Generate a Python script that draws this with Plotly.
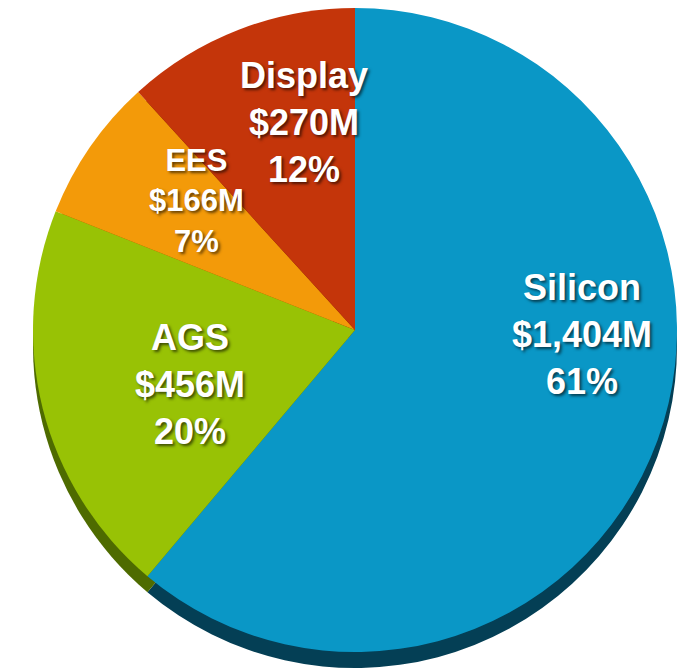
import plotly.graph_objects as go

# ---- data ----
segments = ["Silicon", "AGS", "EES", "Display"]
revenue_musd = [1404, 456, 166, 270]
share_pct = [61, 20, 7, 12]
face_colors = ["#0A97C6", "#98C205", "#F39A09", "#C4350A"]
edge_colors = ["#043F55", "#4E6B00", "#8A5200", "#6E1D05"]

# label placement (pixel centres of each label block, page coords) and font sizes
label_px = [(582, 335), (190, 384), (196, 201), (304, 122)]
label_size = [36, 36, 31, 36]

W, H = 685, 672
OFF = 8  # page body margin of the html page
r = 322
cx, cy = 355 - OFF, r
depth = 16


def dom(cx, cy, r):
    return dict(x=[max(0, (cx - r) / W), min(1, (cx + r) / W)],
                y=[max(0, 1 - (cy + r) / H), min(1, 1 - (cy - r) / H)])


fig = go.Figure()
# depth (side) of the pie
fig.add_trace(go.Pie(
    labels=segments, values=revenue_musd, sort=False, direction="clockwise",
    rotation=0, marker=dict(colors=edge_colors, line=dict(width=0)),
    textinfo="none", hoverinfo="skip", showlegend=False,
    domain=dom(cx, cy + depth, r),
))
# top face
fig.add_trace(go.Pie(
    labels=segments, values=revenue_musd, sort=False, direction="clockwise",
    rotation=0, marker=dict(colors=face_colors, line=dict(width=0)),
    textinfo="none", hoverinfo="label+value", showlegend=False,
    domain=dom(cx, cy, r),
))

for name, val, pct, (px, py), fs in zip(segments, revenue_musd, share_pct, label_px, label_size):
    fig.add_annotation(
        x=(px - OFF) / W, y=1 - (py - OFF) / H, xref="paper", yref="paper",
        xanchor="center", yanchor="middle", showarrow=False, align="center",
        text=f"<b>{name}<br>${val:,}M<br>{pct}%</b>",
        font=dict(family="Liberation Sans, Arial, sans-serif", size=fs, color="white",
                  shadow="2px 2px 3px rgba(0,0,0,0.6)"),
    )

fig.update_layout(
    width=W, height=H, margin=dict(l=0, r=0, t=0, b=0),
    paper_bgcolor="white", plot_bgcolor="white", showlegend=False,
)
fig.write_html("out.html")
